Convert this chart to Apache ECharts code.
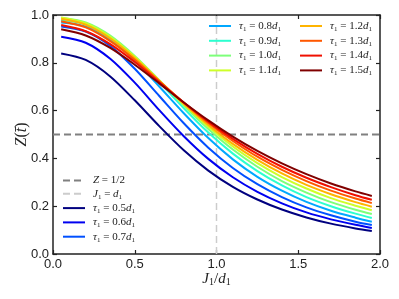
<!DOCTYPE html>
<html><head><meta charset="utf-8">
<script src="https://cdn.jsdelivr.net/npm/echarts@6/dist/echarts.min.js"></script>
<style>html,body{margin:0;padding:0;background:#fff}#c{width:399px;height:299px}</style>
</head><body><div id="c"></div>
<script>
// ---- data ----
const J = [0.05, 0.2, 0.35, 0.5, 0.65, 0.8, 0.95, 1.1, 1.25, 1.4, 1.55, 1.7, 1.85, 1.95];
const tau05 = [0.839, 0.812, 0.743, 0.643, 0.535, 0.434, 0.349, 0.281, 0.228, 0.186, 0.153, 0.127, 0.107, 0.096];
const tau06 = [0.909, 0.884, 0.817, 0.717, 0.602, 0.493, 0.398, 0.321, 0.260, 0.212, 0.174, 0.145, 0.122, 0.109];
const tau07 = [0.952, 0.931, 0.871, 0.775, 0.661, 0.547, 0.445, 0.360, 0.292, 0.238, 0.195, 0.162, 0.135, 0.121];
const tau08 = [0.969, 0.952, 0.898, 0.810, 0.701, 0.589, 0.485, 0.396, 0.323, 0.265, 0.218, 0.181, 0.152, 0.135];
const tau09 = [0.979, 0.961, 0.908, 0.823, 0.719, 0.610, 0.508, 0.420, 0.347, 0.287, 0.238, 0.200, 0.169, 0.151];
const tau10 = [0.989, 0.969, 0.914, 0.829, 0.727, 0.621, 0.523, 0.437, 0.365, 0.305, 0.257, 0.217, 0.185, 0.167];
const tau11 = [0.990, 0.966, 0.909, 0.825, 0.726, 0.626, 0.532, 0.450, 0.380, 0.322, 0.274, 0.234, 0.202, 0.183];
const tau12 = [0.984, 0.959, 0.902, 0.820, 0.725, 0.629, 0.540, 0.461, 0.394, 0.337, 0.289, 0.250, 0.217, 0.198];
const tau13 = [0.974, 0.948, 0.891, 0.813, 0.723, 0.633, 0.548, 0.473, 0.407, 0.352, 0.305, 0.265, 0.232, 0.213];
const tau14 = [0.958, 0.932, 0.878, 0.803, 0.719, 0.634, 0.554, 0.482, 0.419, 0.365, 0.319, 0.280, 0.246, 0.227];
const tau15 = [0.940, 0.914, 0.862, 0.792, 0.714, 0.634, 0.559, 0.491, 0.431, 0.379, 0.334, 0.295, 0.262, 0.243];
const tauLabels = ['0.5', '0.6', '0.7', '0.8', '0.9', '1.0', '1.1', '1.2', '1.3', '1.4', '1.5'];
const halfLevel = 0.5;     // Z = 1/2
const jEqualsD = 1.0;      // J1 = d1
const xRange = [0, 2];
const yRange = [0, 1];

// ---- styles ----
const colors = ['#00007f', '#0000f0', '#0050ff', '#00a8ff', '#2cffd0', '#7dff7a', '#ceff29',
                '#ffb400', '#ff5800', '#f01000', '#800000'];
const curves = [tau05, tau06, tau07, tau08, tau09, tau10, tau11, tau12, tau13, tau14, tau15];

const serif = 'Liberation Serif, DejaVu Serif, serif';
const rich = {
  i: {fontFamily: serif, fontStyle: 'italic', fontSize: 11, lineHeight: 13, color: '#222'},
  n: {fontFamily: serif, fontSize: 11, lineHeight: 13, color: '#222'},
  s: {fontFamily: serif, fontSize: 7, lineHeight: 7, verticalAlign: 'bottom', color: '#222'}
};
const labelMap = {
  'Z': '{i|Z}{n| = 1/2}',
  'J': '{i|J}{s|1}{n| = }{i|d}{s|1}'
};
tauLabels.forEach(t => { labelMap['t' + t] = '{i|τ}{s|1}{n| = ' + t + '}{i|d}{s|1}'; });

const series = [];
series.push({
  name: 'Z', type: 'line', symbol: 'none', z: 1, animation: false,
  data: [[xRange[0], halfLevel], [xRange[1], halfLevel]],
  lineStyle: {color: '#808080', width: 1.8, type: [7, 4]}, itemStyle: {color: '#808080'}
});
series.push({
  name: 'J', type: 'line', symbol: 'none', z: 1, animation: false,
  data: [[jEqualsD, yRange[0]], [jEqualsD, yRange[1]]],
  lineStyle: {color: '#cccccc', width: 1.5, type: [7, 4]}, itemStyle: {color: '#cccccc'}
});
curves.forEach((c, i) => {
  series.push({
    name: 't' + tauLabels[i], type: 'line', symbol: 'none', smooth: 0.3, z: 3, animation: false,
    data: J.map((x, k) => [x, c[k]]),
    lineStyle: {color: colors[i], width: 2}, itemStyle: {color: colors[i]}
  });
});

const axisCol = '#222';
const sans = 'Liberation Sans, Arial, sans-serif';
function mkLegend(names, left, top, gap) {
  return {
    data: names, orient: 'vertical', left: left, top: top, padding: 0,
    itemWidth: 22, itemHeight: 13, itemGap: gap, selectedMode: false,
    itemStyle: {opacity: 0, borderWidth: 0},
    formatter: n => labelMap[n],
    textStyle: {rich: rich, padding: [0, 0, 0, 3]}
  };
}
const option = {
  animation: false,
  grid: {left: 53, right: 19, top: 15, bottom: 45},
  legend: [
    mkLegend(['Z', 'J', 't0.5', 't0.6', 't0.7'], 62, 175, 2.3),
    mkLegend(['t0.8', 't0.9', 't1.0', 't1.1'], 208, 20.5, 2.8),
    mkLegend(['t1.2', 't1.3', 't1.4', 't1.5'], 299, 20.5, 2.8)
  ],
  xAxis: [{
    type: 'value', min: xRange[0], max: xRange[1], interval: 0.5, position: 'bottom',
    axisLine: {onZero: false, lineStyle: {color: axisCol, width: 1.5}},
    axisTick: {inside: true, length: 4, lineStyle: {color: axisCol, width: 1.2}},
    axisLabel: {margin: 4, fontSize: 13, color: axisCol, fontFamily: sans, formatter: v => v.toFixed(1)},
    splitLine: {show: false},
    name: '{i|J}{s|1}{n|/}{i|d}{s|1}', nameLocation: 'middle', nameGap: 16.5, nameMoveOverlap: false,
    nameTextStyle: {rich: {
      i: {fontFamily: serif, fontStyle: 'italic', fontSize: 15, lineHeight: 17, color: axisCol},
      n: {fontFamily: serif, fontSize: 15, lineHeight: 17, color: axisCol},
      s: {fontFamily: serif, fontSize: 10, lineHeight: 10, verticalAlign: 'bottom', color: axisCol}
    }}
  }, {
    type: 'value', min: xRange[0], max: xRange[1], interval: 0.5, position: 'top',
    axisLine: {onZero: false, lineStyle: {color: axisCol, width: 1.5}},
    axisTick: {inside: true, length: 4, lineStyle: {color: axisCol, width: 1.2}},
    axisLabel: {show: false}, splitLine: {show: false}
  }],
  yAxis: [{
    type: 'value', min: yRange[0], max: yRange[1], interval: 0.2, position: 'left',
    axisLine: {onZero: false, lineStyle: {color: axisCol, width: 1.5}},
    axisTick: {inside: true, length: 4, lineStyle: {color: axisCol, width: 1.2}},
    axisLabel: {margin: 4, fontSize: 13, color: axisCol, fontFamily: sans, formatter: v => v.toFixed(1)},
    splitLine: {show: false},
    name: '{i|Z}{n|(}{i|t\u0304}{n|)}', nameLocation: 'middle', nameGap: 22, nameMoveOverlap: false,
    nameTextStyle: {rich: {
      i: {fontFamily: serif, fontStyle: 'italic', fontSize: 16, lineHeight: 18, color: axisCol},
      n: {fontFamily: serif, fontSize: 16, lineHeight: 18, color: axisCol}
    }}
  }, {
    type: 'value', min: yRange[0], max: yRange[1], interval: 0.2, position: 'right',
    axisLine: {onZero: false, lineStyle: {color: axisCol, width: 1.5}},
    axisTick: {inside: true, length: 4, lineStyle: {color: axisCol, width: 1.2}},
    axisLabel: {show: false}, splitLine: {show: false}
  }],
  series: series
};
const chart = echarts.init(document.getElementById('c'), null, {renderer: 'canvas'});
chart.setOption(option);
</script>
</body></html>
